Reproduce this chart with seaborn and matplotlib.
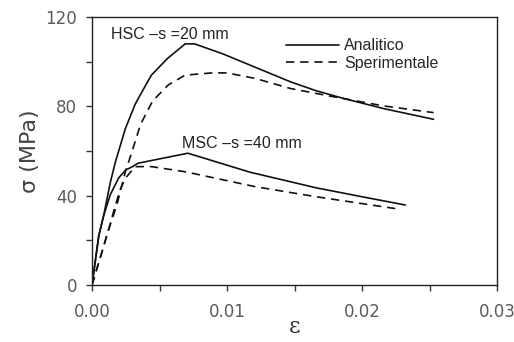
import pandas as pd
import seaborn as sns
import matplotlib.pyplot as plt

# stress-strain curves (strain, MPa)
hsc_ana_eps = [0, 0.0005, 0.00086, 0.00136, 0.00173, 0.00247, 0.0032, 0.0037, 0.0044,
               0.0056, 0.0069, 0.0076, 0.0097, 0.0117, 0.0147, 0.0166, 0.0186, 0.0216, 0.0253]
hsc_ana_sig = [0, 22, 31, 46, 55, 70, 81, 86.5, 94,
               101.5, 108, 108, 103.5, 98.5, 91, 87, 83.6, 79, 74.2]

hsc_exp_eps = [0, 0.0007, 0.0011, 0.00185, 0.00247, 0.00296, 0.0036, 0.0045, 0.00565,
               0.0069, 0.0089, 0.0100, 0.0121, 0.0147, 0.0179, 0.0216, 0.0253]
hsc_exp_sig = [0, 14, 22.4, 36, 50.7, 59.7, 72, 82.5, 89.6,
               94, 95, 95, 92.5, 88, 84.3, 80.2, 77.2]

msc_ana_eps = [0, 0.0005, 0.00086, 0.00136, 0.00198, 0.0025, 0.0030, 0.0034, 0.0052,
               0.0071, 0.0117, 0.0145, 0.0166, 0.0200, 0.0232]
msc_ana_sig = [0, 22, 31, 40.5, 48, 51.5, 53, 54.5, 56.7,
               59, 50.5, 46.5, 43.5, 39.5, 35.8]

msc_exp_eps = [0, 0.0007, 0.0011, 0.0017, 0.0021, 0.0025, 0.0032, 0.0044, 0.0069,
               0.0121, 0.0166, 0.0228]
msc_exp_sig = [0, 14, 22, 35, 43, 48, 53, 53, 50.7,
               44, 39.5, 33.9]

rows = []
for name, kind, xs, ys in [
    ("HSC", "Analitico", hsc_ana_eps, hsc_ana_sig),
    ("HSC", "Sperimentale", hsc_exp_eps, hsc_exp_sig),
    ("MSC", "Analitico", msc_ana_eps, msc_ana_sig),
    ("MSC", "Sperimentale", msc_exp_eps, msc_exp_sig),
]:
    for x, y in zip(xs, ys):
        rows.append({"eps": x, "sigma": y, "curve": name + kind, "tipo": kind})
df = pd.DataFrame(rows)

sns.set_style("ticks")
plt.rcParams["font.family"] = ["Liberation Sans", "DejaVu Sans"]

fig = plt.figure(figsize=(5.14, 3.42), dpi=100)
ax = fig.add_axes([0.179, 0.167, 0.788, 0.783])

sns.lineplot(data=df, x="eps", y="sigma", units="curve", style="tipo",
             estimator=None, sort=False, color="#111111", linewidth=1.2,
             dashes={"Analitico": "", "Sperimentale": (5, 3.5)}, ax=ax)

ax.set_xlim(0, 0.03)
ax.set_ylim(0, 120)
ax.set_xticks([0, 0.01, 0.02, 0.03])
ax.set_xticklabels(["0.00", "0.01", "0.02", "0.03"])
ax.set_xticks([0.005, 0.015, 0.025], minor=True)
ax.set_yticks([0, 40, 80, 120])
ax.set_yticks([20, 60, 100], minor=True)
ax.tick_params(which="both", direction="out", length=4.3, width=1, colors="#333333",
               labelcolor="#5a5a5a")
ax.tick_params(axis="x", which="major", pad=8.5)
ax.tick_params(axis="y", which="major", pad=6.5)
for lab in ax.get_xticklabels() + ax.get_yticklabels():
    lab.set_family(["DejaVu Sans"])
    lab.set_fontsize(12)
for sp in ax.spines.values():
    sp.set_color("#222222")
    sp.set_linewidth(1)

ax.set_xlabel("ε", fontsize=16, color="#333333", family=["DejaVu Serif"], labelpad=-3)
ax.set_ylabel("σ (MPa)", fontsize=16, color="#444444", family=["DejaVu Sans"],
              labelpad=4)

ax.text(0.0014, 112, "HSC –s =20 mm", fontsize=11.5, color="#222222", va="center")
ax.text(0.0067, 63.5, "MSC –s =40 mm", fontsize=11.5, color="#222222", va="center")

ax.legend(title=None, frameon=False, loc="upper left", bbox_to_anchor=(0.464, 0.945),
          borderaxespad=0, handlelength=3.3, handletextpad=0.3, labelspacing=0.15,
          fontsize=11.5)

fig.savefig("out.png", dpi=100)
